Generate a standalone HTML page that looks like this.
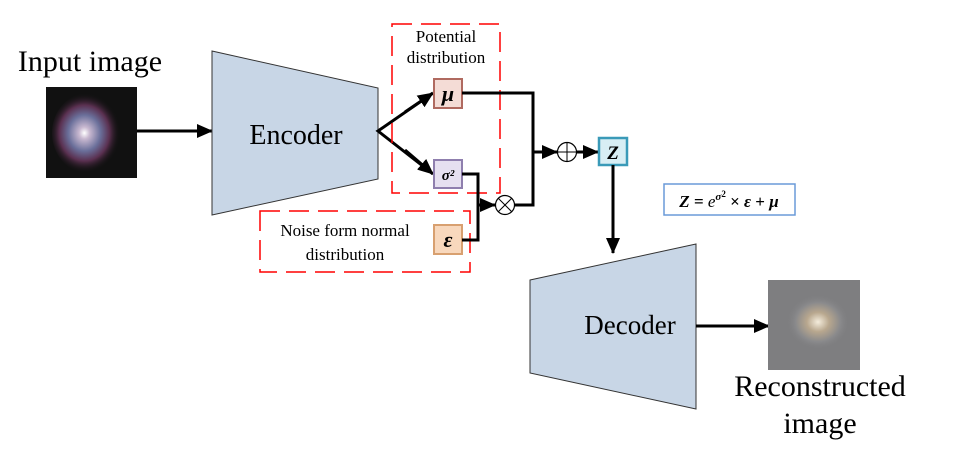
<!DOCTYPE html>
<html><head><meta charset="utf-8"><style>
html,body{margin:0;padding:0;background:#fff;}
svg{display:block;}
text{font-family:"Liberation Serif",serif;fill:#000;}
</style></head><body>
<svg width="959" height="450" viewBox="0 0 959 450" xmlns="http://www.w3.org/2000/svg">
<defs>
<marker id="ah" markerWidth="16" markerHeight="14" refX="15" refY="7" orient="auto" markerUnits="userSpaceOnUse">
<path d="M0,0 L16,7 L0,14 z" fill="#000"/></marker>
<radialGradient id="gal" cx="0.45" cy="0.5" r="0.5">
<stop offset="0" stop-color="#fff"/><stop offset="0.15" stop-color="#c8b8d0"/><stop offset="0.45" stop-color="#6a6f9a"/><stop offset="0.7" stop-color="#5a3050"/><stop offset="1" stop-color="#111" stop-opacity="0"/></radialGradient>
<radialGradient id="rec" cx="0.5" cy="0.5" r="0.5">
<stop offset="0" stop-color="#f4ecdc"/><stop offset="0.35" stop-color="#b8a78e"/><stop offset="0.7" stop-color="#8a8a8c"/><stop offset="1" stop-color="#7d7d7f" stop-opacity="0"/></radialGradient>
</defs>

<text x="90" y="71" font-size="30" text-anchor="middle">Input image</text>
<rect x="46" y="87" width="91" height="91" fill="#111"/>
<ellipse cx="88" cy="133" rx="36" ry="40" fill="url(#gal)"/>
<line x1="137" y1="131" x2="212" y2="131" stroke="#000" stroke-width="3" marker-end="url(#ah)"/>

<polygon points="212,51 378,88 378,179 212,215" fill="#c8d6e6" stroke="#333" stroke-width="1"/>
<text x="296" y="144" font-size="28" text-anchor="middle">Encoder</text>

<polyline points="433,93 378,131 433,174" fill="none" stroke="#000" stroke-width="3"/>
<line x1="405" y1="112" x2="433" y2="93" stroke="#000" stroke-width="3" marker-end="url(#ah)"/>
<line x1="405" y1="150" x2="433" y2="174" stroke="#000" stroke-width="3" marker-end="url(#ah)"/>

<rect x="392" y="24" width="108" height="169" fill="none" stroke="#f00" stroke-width="1.5" stroke-dasharray="20,9"/>
<text x="446" y="42" font-size="17" text-anchor="middle">Potential</text>
<text x="446" y="63" font-size="17" text-anchor="middle">distribution</text>

<rect x="260" y="211" width="210" height="61" fill="none" stroke="#f00" stroke-width="1.5" stroke-dasharray="20,9"/>
<text x="345" y="236" font-size="17" text-anchor="middle">Noise form normal</text>
<text x="345" y="260" font-size="17" text-anchor="middle">distribution</text>

<rect x="434" y="79" width="28" height="29" fill="#f4dcd6" stroke="#b06a60" stroke-width="2"/>
<text x="448" y="101" font-size="22" font-weight="bold" font-style="italic" text-anchor="middle">μ</text>
<rect x="434" y="160" width="28" height="28" fill="#e6e0f0" stroke="#8f7fae" stroke-width="2"/>
<text x="448" y="180" font-size="15" font-weight="bold" font-style="italic" text-anchor="middle">σ²</text>
<rect x="434" y="225" width="28" height="29" fill="#f8d8bd" stroke="#d8a070" stroke-width="2"/>
<text x="448" y="247" font-size="22" font-weight="bold" font-style="italic" text-anchor="middle">ε</text>

<polyline points="462,93 533,93 533,205 515,205" fill="none" stroke="#000" stroke-width="3"/>
<polyline points="462,174 478,174 478,240 462,240" fill="none" stroke="#000" stroke-width="3"/>
<line x1="478" y1="205" x2="495" y2="205" stroke="#000" stroke-width="3" marker-end="url(#ah)"/>
<circle cx="505" cy="205" r="9.5" fill="#fff" stroke="#000" stroke-width="1.2"/>
<line x1="498" y1="198" x2="512" y2="212" stroke="#000" stroke-width="1"/>
<line x1="512" y1="198" x2="498" y2="212" stroke="#000" stroke-width="1"/>

<line x1="533" y1="152" x2="557" y2="152" stroke="#000" stroke-width="3" marker-end="url(#ah)"/>
<circle cx="567" cy="152" r="9.5" fill="#fff" stroke="#000" stroke-width="1.2"/>
<line x1="557.5" y1="152" x2="576.5" y2="152" stroke="#000" stroke-width="1"/>
<line x1="567" y1="142.5" x2="567" y2="161.5" stroke="#000" stroke-width="1"/>
<line x1="577" y1="152" x2="598" y2="152" stroke="#000" stroke-width="3" marker-end="url(#ah)"/>

<rect x="599" y="138" width="28" height="27" fill="#d8eef4" stroke="#3a9ab8" stroke-width="2.5"/>
<text x="613" y="159" font-size="19" font-weight="bold" font-style="italic" text-anchor="middle">Z</text>
<line x1="613" y1="165" x2="613" y2="253" stroke="#000" stroke-width="3" marker-end="url(#ah)"/>

<rect x="664" y="184" width="131" height="31" fill="#fff" stroke="#6a9ad8" stroke-width="1.5"/>
<text x="729" y="207" font-size="17" text-anchor="middle" font-weight="bold"><tspan font-style="italic">Z</tspan> = <tspan font-style="italic" font-weight="normal">e</tspan><tspan font-size="11" dy="-7" font-style="italic">σ</tspan><tspan font-size="9" dy="-3">2</tspan><tspan dy="10"> × </tspan><tspan font-style="italic">ε</tspan> + <tspan font-style="italic">μ</tspan></text>

<polygon points="530,280 696,244 696,409 530,373" fill="#c8d6e6" stroke="#333" stroke-width="1"/>
<text x="630" y="334" font-size="27" text-anchor="middle">Decoder</text>
<line x1="696" y1="326" x2="769" y2="326" stroke="#000" stroke-width="3" marker-end="url(#ah)"/>

<rect x="768" y="280" width="92" height="90" fill="#7e7e80"/>
<ellipse cx="818" cy="322" rx="32" ry="28" fill="url(#rec)"/>
<text x="820" y="396" font-size="30" text-anchor="middle">Reconstructed</text>
<text x="820" y="433" font-size="30" text-anchor="middle">image</text>
</svg>
</body></html>
